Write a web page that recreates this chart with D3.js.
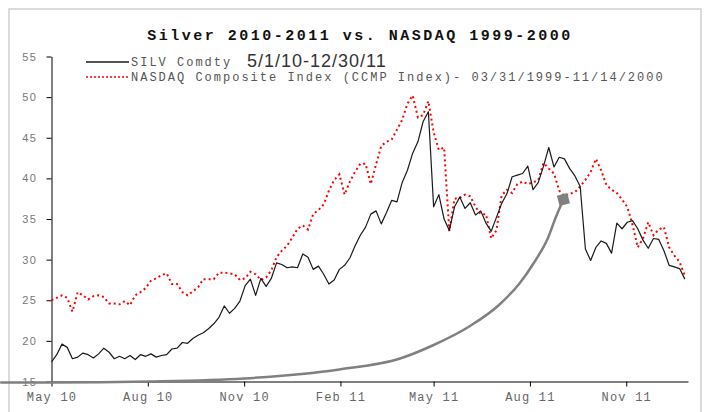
<!DOCTYPE html>
<html>
<head>
<meta charset="utf-8">
<script src="https://cdn.jsdelivr.net/npm/d3@7"></script>
<style>
  body { margin: 0; background: #fff; }
  svg { display: block; }
</style>
</head>
<body>
<svg id="chart" width="708" height="412"></svg>
<script>
// series are sampled every 5 calendar days from the start date
const startDate = "2010-05-01";
const endDate = "2011-12-30";
const stepDays = 5;

const silver = [
  17.4, 18.3, 19.6, 19.2, 17.8, 18.0, 18.5, 18.3, 17.9, 18.4,
  19.1, 18.6, 17.8, 18.1, 17.8, 18.2, 17.7, 18.3, 18.1, 18.4,
  18.0, 18.2, 18.3, 19.0, 19.1, 19.8, 19.7, 20.3, 20.7, 21.0,
  21.5, 22.1, 22.9, 24.3, 23.4, 24.0, 24.9, 26.8, 27.6, 25.6,
  27.7, 26.7, 27.7, 29.6, 29.4, 29.0, 29.1, 29.0, 30.7, 30.3,
  28.8, 29.2, 28.2, 27.0, 27.5, 28.8, 29.3, 30.2, 31.7, 33.0,
  34.0, 35.6, 36.0, 34.4, 35.8, 37.3, 37.1, 39.5, 41.0, 43.1,
  44.5, 47.0, 48.2, 36.5, 38.0, 35.0, 33.6, 36.5, 37.7, 36.3,
  37.0, 35.5, 36.0, 34.5, 33.5, 35.2, 36.9, 38.1, 40.2, 40.4,
  40.6, 41.5, 38.6, 39.5, 41.5, 43.8, 41.4, 42.6, 42.4, 41.2,
  40.3, 39.0, 31.3, 29.9, 31.5, 32.3, 32.0, 30.8, 34.5, 33.8,
  34.6, 34.8, 33.8, 32.4, 31.4, 32.6, 32.5, 31.1, 29.3, 29.1,
  28.9, 27.6
];

const nasdaq = [
  25.0, 25.3, 25.6, 25.3, 23.6, 26.0, 25.6, 25.1, 25.5, 25.6,
  25.4, 24.6, 24.6, 24.5, 24.9, 24.4, 25.6, 26.0, 26.5, 27.4,
  27.7, 28.1, 28.3, 27.0, 27.0, 26.0, 25.6, 26.1, 26.6, 27.6,
  27.6, 27.6, 28.4, 28.4, 28.3, 28.2, 27.5, 27.7, 28.5, 28.2,
  27.5, 27.8, 28.7, 30.3, 31.1, 31.7, 32.7, 33.8, 34.2, 33.7,
  35.6, 36.1, 36.8, 38.5, 39.8, 40.5, 38.0, 39.6, 40.8, 41.8,
  41.8, 39.3, 41.7, 44.0, 44.5, 44.8, 46.0, 47.2, 49.2, 50.2,
  47.5, 47.8, 49.5, 45.7, 43.5, 43.8, 33.5, 37.5, 37.6, 38.0,
  37.8, 36.5, 35.6, 35.6, 32.6, 33.6, 37.9, 38.6, 38.2, 39.3,
  39.6, 39.3, 39.5, 39.8, 41.9, 41.2, 40.6, 38.5, 37.8, 38.1,
  38.3, 39.0, 39.8, 40.8, 42.4, 41.0, 39.2, 38.6, 38.2, 37.4,
  36.5, 34.3, 31.5, 32.6, 34.6, 33.0, 33.7, 34.0, 31.5, 30.5,
  29.7, 28.0
];

// hand-drawn arrow on the chart, in date / value terms
const arrowCurve = [
  ["2010-03-13", 14.88], ["2010-05-01", 14.88], ["2010-08-03", 15.0],
  ["2010-11-01", 15.37], ["2011-01-31", 16.48], ["2011-03-30", 17.83],
  ["2011-04-30", 19.43], ["2011-06-04", 21.77], ["2011-07-03", 24.48],
  ["2011-07-22", 27.06], ["2011-08-05", 29.65], ["2011-08-18", 32.6],
  ["2011-08-26", 35.3], ["2011-09-02", 37.4]
];

const xTickDates = ["2010-05-01", "2010-08-01", "2010-11-01", "2011-02-01",
                    "2011-05-01", "2011-08-01", "2011-11-01"];
const yTicks = [15, 20, 25, 30, 35, 40, 45, 50, 55];

const title = "Silver 2010-2011 vs. NASDAQ 1999-2000";
const legendLabels = ["SILV Comdty",
  "NASDAQ Composite Index (CCMP Index)- 03/31/1999-11/14/2000"];
const silverRange = "5/1/10-12/30/11";

const parse = d3.timeParse("%Y-%m-%d");
const t0 = parse(startDate);
const dateAt = i => d3.timeDay.offset(t0, i * stepDays);

const svg = d3.select("#chart");
const mono = '"Liberation Mono", "Courier New", monospace';

// outer frame
svg.append("rect")
  .attr("x", 9).attr("y", 9)
  .attr("width", 692).attr("height", 420)
  .attr("fill", "none")
  .attr("stroke", "#cfcfcf")
  .attr("stroke-width", 1.5);

const x = d3.scaleTime()
  .domain([t0, parse(endDate)])
  .range([51.5, 688]);

const y = d3.scaleLinear()
  .domain([15, 55])
  .range([381.5, 56.5]);

// axes
const xAxis = svg.append("g")
  .attr("transform", "translate(0,381.5)")
  .call(d3.axisBottom(x)
    .tickValues(xTickDates.map(parse))
    .tickFormat(d3.timeFormat("%b %y"))
    .tickSize(5)
    .tickSizeOuter(0)
    .tickPadding(6));

const yAxis = svg.append("g")
  .attr("transform", "translate(51.5,0)")
  .call(d3.axisLeft(y)
    .tickValues(yTicks)
    .tickSize(5)
    .tickSizeOuter(0)
    .tickPadding(9));

xAxis.selectAll("text")
  .attr("fill", "#666")
  .style("font-family", mono)
  .style("font-size", "12px")
  .style("letter-spacing", "1.2px");

yAxis.selectAll("text")
  .attr("fill", "#777")
  .style("font-family", '"Liberation Sans", Arial, sans-serif')
  .style("font-size", "11px")
  .style("letter-spacing", "1.5px");

svg.selectAll(".domain, .tick line").attr("stroke", "#000");

// series
const line = d3.line()
  .x((d, i) => x(dateAt(i)))
  .y(d => y(d));

svg.append("path")
  .datum(nasdaq)
  .attr("d", line)
  .attr("fill", "none")
  .attr("stroke", "#ff0000")
  .attr("stroke-width", 2)
  .attr("stroke-dasharray", "2,3");

svg.append("path")
  .datum(silver)
  .attr("d", line)
  .attr("fill", "none")
  .attr("stroke", "#1a1a1a")
  .attr("stroke-width", 1.2)
  .attr("stroke-linejoin", "round");

// arrow annotation
const arrowLine = d3.line()
  .x(d => x(parse(d[0])))
  .y(d => y(d[1]))
  .curve(d3.curveMonotoneX);

svg.append("path")
  .datum(arrowCurve)
  .attr("d", arrowLine)
  .attr("fill", "none")
  .attr("stroke", "#808080")
  .attr("stroke-width", 2.5);

const tip = arrowCurve[arrowCurve.length - 1];
svg.append("path")
  .attr("d", d3.symbol(d3.symbolSquare, 115)())
  .attr("transform", `translate(${x(parse(tip[0]))},${y(tip[1])}) rotate(-15)`)
  .attr("fill", "#808080");

// title
svg.append("text")
  .attr("x", 360).attr("y", 40)
  .attr("text-anchor", "middle")
  .style("font-family", mono)
  .style("font-weight", "bold")
  .style("font-size", "15px")
  .style("letter-spacing", "2.5px")
  .attr("fill", "#111")
  .text(title);

// legend
const legend = svg.append("g");
const legendStyles = [
  { stroke: "#1a1a1a", dash: null, width: 1.3 },
  { stroke: "#ff0000", dash: "2,2", width: 1.5 }
];
legendLabels.forEach((label, i) => {
  const ly = 62 + i * 15;
  legend.append("line")
    .attr("x1", 86).attr("x2", 129)
    .attr("y1", ly).attr("y2", ly)
    .attr("stroke", legendStyles[i].stroke)
    .attr("stroke-width", legendStyles[i].width)
    .attr("stroke-dasharray", legendStyles[i].dash);
  legend.append("text")
    .attr("x", 131).attr("y", ly + 4)
    .style("font-family", mono)
    .style("font-size", "12px")
    .style("letter-spacing", "2px")
    .attr("fill", "#555")
    .text(label);
});

legend.append("text")
  .attr("x", 247).attr("y", 67)
  .style("font-family", '"Liberation Sans", Arial, sans-serif')
  .style("font-size", "18px")
  .style("letter-spacing", "1px")
  .attr("fill", "#333")
  .text(silverRange);
</script>
</body>
</html>
